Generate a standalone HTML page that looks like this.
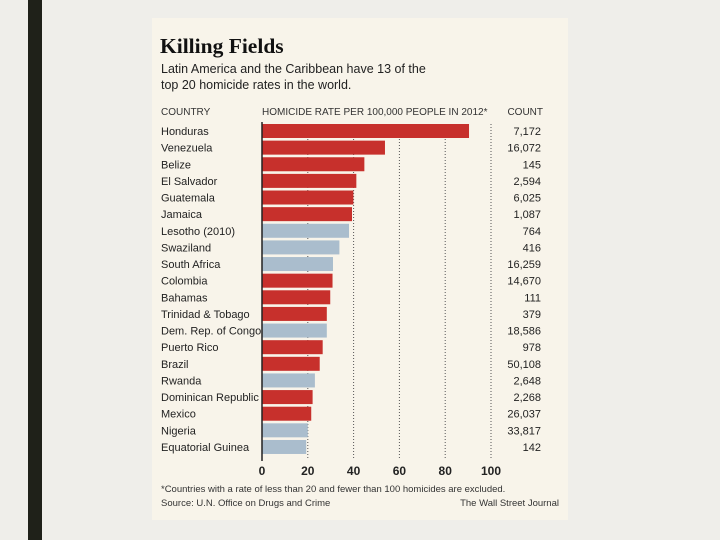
<!DOCTYPE html>
<html><head><meta charset="utf-8"><style>
body{margin:0;width:720px;height:540px;background:#efeeea;position:relative;overflow:hidden;font-family:"Liberation Sans",sans-serif}
#bar{position:absolute;left:28px;top:0;width:14px;height:540px;background:#1f2119}
#card{position:absolute;left:152px;top:18px;width:416px;height:502px;background:#f8f4ea}
</style></head><body>
<div id="bar"></div>
<div id="card"></div>
<svg width="720" height="540" style="position:absolute;left:0;top:0" id="chart">
<text x="160" y="53" font-family="Liberation Serif,serif" font-weight="bold" font-size="21.5" fill="#111">Killing Fields</text>
<text x="161" y="73" font-size="12.5" fill="#222">Latin America and the Caribbean have 13 of the</text>
<text x="161" y="89" font-size="12.5" fill="#222">top 20 homicide rates in the world.</text>
<text x="161" y="115" font-size="10" fill="#333">COUNTRY</text>
<text x="262" y="115" font-size="10" fill="#333">HOMICIDE RATE PER 100,000 PEOPLE IN 2012*</text>
<text x="543" y="115" font-size="10" fill="#333" text-anchor="end">COUNT</text>
<g id="plot"></g>
<text x="161" y="492" font-size="9.5" fill="#333">*Countries with a rate of less than 20 and fewer than 100 homicides are excluded.</text>
<text x="161" y="506" font-size="9.5" fill="#333">Source: U.N. Office on Drugs and Crime</text>
<text x="559" y="506" font-size="9.5" fill="#333" text-anchor="end">The Wall Street Journal</text>
</svg>
<script>
const countries=["Honduras","Venezuela","Belize","El Salvador","Guatemala","Jamaica","Lesotho (2010)","Swaziland","South Africa","Colombia","Bahamas","Trinidad & Tobago","Dem. Rep. of Congo","Puerto Rico","Brazil","Rwanda","Dominican Republic","Mexico","Nigeria","Equatorial Guinea"];
const rates=[90.4,53.7,44.7,41.2,39.9,39.3,38.0,33.8,31.0,30.8,29.8,28.3,28.3,26.5,25.2,23.1,22.1,21.5,20.0,19.3];
const counts=["7,172","16,072","145","2,594","6,025","1,087","764","416","16,259","14,670","111","379","18,586","978","50,108","2,648","2,268","26,037","33,817","142"];
const latin=[1,1,1,1,1,1,0,0,0,1,1,1,0,1,1,0,1,1,0,0];
const ticks=[0,20,40,60,80,100];
const x=v=>262+v*2.29;
const y=i=>124+i*16.63;
const g=document.getElementById('plot');
const NS="http://www.w3.org/2000/svg";
function mk(t,a){const e=document.createElementNS(NS,t);for(const k in a)e.setAttribute(k,a[k]);g.appendChild(e);return e;}
ticks.forEach(t=>{
 if(t>0){const l=mk('line',{x1:x(t),x2:x(t),y1:124,y2:458,stroke:'#555','stroke-width':1,'stroke-dasharray':'1,2'});
 
 }
 const tx=mk('text',{x:x(t),y:475,'font-size':12,'font-weight':'bold','text-anchor':'middle',fill:'#222'});tx.textContent=t;
 
 
});
countries.forEach((c,i)=>{
 const r=mk('rect',{x:x(0),y:y(i),width:x(rates[i])-x(0),height:14,fill:latin[i]?'#c7302c':'#aabdcd'});
 
 
 const t=mk('text',{x:161,y:y(i)+11,'font-size':11,fill:'#222'});t.textContent=c;
 
 
 const n=mk('text',{x:541,y:y(i)+11,'font-size':11,fill:'#222','text-anchor':'end'});n.textContent=counts[i];
 
 
});
const ax=mk('line',{x1:262,x2:262,y1:122,y2:461,stroke:'#222','stroke-width':1.5});


</script>
</body></html>
